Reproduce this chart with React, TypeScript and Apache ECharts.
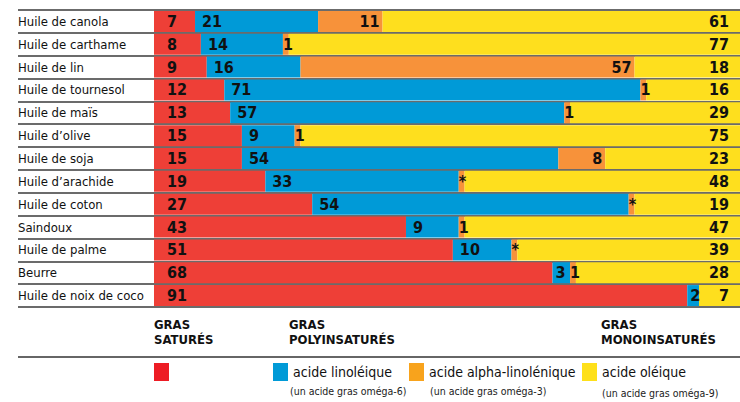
import React, { useEffect, useRef } from "react";
import * as echarts from "echarts";

const categories = [
  "Huile de canola",
  "Huile de carthame",
  "Huile de lin",
  "Huile de tournesol",
  "Huile de maïs",
  "Huile d’olive",
  "Huile de soja",
  "Huile d’arachide",
  "Huile de coton",
  "Saindoux",
  "Huile de palme",
  "Beurre",
  "Huile de noix de coco",
];
const saturated = [7, 8, 9, 12, 13, 15, 15, 19, 27, 43, 51, 68, 91];
const linoleic = [21, 14, 16, 71, 57, 9, 54, 33, 54, 9, 10, 3, 2];
// "*" = trace amount
const alphaLinolenic: (number | string)[] = [11, 1, 57, 1, 1, 1, 8, "*", "*", 1, "*", 1, 0];
const oleic = [61, 77, 18, 16, 29, 75, 23, 48, 19, 47, 39, 28, 7];
const TRACE_WIDTH = 1;

const seriesNames = ["gras saturés", "acide linoléique", "acide alpha-linolénique", "acide oléique"];
const subtitles = ["(un acide gras oméga-6)", "(un acide gras oméga-3)", "(un acide gras oméga-9)"];
const groupHeadings = ["GRAS\nSATURÉS", "GRAS\nPOLYINSATURÉS", "GRAS\nMONOINSATURÉS"];

const COLORS = ["#EE3F37", "#009AD7", "#F7923A", "#FEDF1E"];
const LEGEND_COLORS = ["#ED1C24", "#009AD7", "#F8A31C", "#FEE01A"];
const NARROW = "'DejaVu Sans Condensed','Liberation Sans Narrow',sans-serif";

export default function App() {
  const ref = useRef<HTMLDivElement>(null);
  useEffect(() => {
    if (!ref.current) return;
    const chart = echarts.init(ref.current, null, { renderer: "svg" });
    const labelStyle = {
      show: true,
      color: "#111",
      fontFamily: NARROW,
      fontWeight: "bold" as const,
      fontSize: 16,
    };
    const blueData = linoleic.map((v) => ({
      value: v,
      label: { position: "insideLeft", distance: v < 5 ? 3 : 7 },
    }));
    const orangeData = alphaLinolenic.map((v) => {
      const num = v === "*" ? TRACE_WIDTH : (v as number);
      const small = num <= 1;
      return {
        value: num,
        label: {
          position: small ? "insideLeft" : "insideRight",
          distance: small ? 0 : 3,
        },
      };
    });
    const legendBase = {
      icon: "rect",
      itemWidth: 15,
      itemHeight: 18,
      itemGap: 5,
      padding: 0,
      top: 363,
      selectedMode: false,
      textStyle: { color: "#111", fontFamily: NARROW, fontSize: 14 },
    };
    const legendItem = (i: number) => ({ name: seriesNames[i], itemStyle: { color: LEGEND_COLORS[i] } });
    chart.setOption({
      animation: false,
      backgroundColor: "#fff",
      grid: { left: 154, right: 0, top: 10, bottom: 95 },
      xAxis: { type: "value", min: 0, max: 100, show: false },
      yAxis: {
        type: "category",
        data: categories,
        inverse: true,
        axisLine: { show: false },
        axisTick: { show: true, length: 136, lineStyle: { color: "#3a3a3a", width: 1.5 } },
        splitLine: { show: true, lineStyle: { color: "#3a3a3a", width: 1.5 } },
        axisLabel: {
          margin: 136,
          align: "left",
          color: "#111",
          fontFamily: NARROW,
          fontSize: 13,
        },
      },
      legend: [
        { ...legendBase, left: 154, data: [legendItem(0)], formatter: () => "" },
        { ...legendBase, left: 273, data: [legendItem(1)] },
        { ...legendBase, left: 409, data: [legendItem(2)] },
        { ...legendBase, left: 582, data: [legendItem(3)] },
      ],
      series: [
        {
          name: seriesNames[0],
          type: "bar",
          stack: "total",
          barCategoryGap: "8%",
          data: saturated,
          itemStyle: { color: COLORS[0] },
          label: { ...labelStyle, position: "insideLeft", distance: 13 },
        },
        {
          name: seriesNames[1],
          type: "bar",
          stack: "total",
          data: blueData,
          itemStyle: { color: COLORS[1] },
          label: { ...labelStyle },
        },
        {
          name: seriesNames[2],
          type: "bar",
          stack: "total",
          data: orangeData,
          itemStyle: { color: COLORS[2] },
          label: {
            ...labelStyle,
            formatter: (p: any) => {
              const v = alphaLinolenic[p.dataIndex];
              return v === 0 ? "" : String(v);
            },
          },
        },
        {
          name: seriesNames[3],
          type: "bar",
          stack: "total",
          data: oleic,
          itemStyle: { color: COLORS[3] },
          label: { ...labelStyle, position: "insideRight", distance: 11 },
        },
      ],
      graphic: [
        ...[154, 289, 601].map((x, i) => ({
          type: "text",
          left: x,
          top: 317,
          style: {
            text: groupHeadings[i],
            fill: "#111",
            fontFamily: NARROW,
            fontWeight: "bold",
            fontSize: 13,
            lineHeight: 15,
          },
        })),
        {
          type: "line",
          shape: { x1: 18, y1: 357, x2: 740, y2: 357 },
          style: { stroke: "#333", lineWidth: 1.5 },
        },
        ...[
          [290, 391],
          [430, 391],
          [602, 393],
        ].map(([x, y], i) => ({
          type: "text",
          x,
          y,
          style: {
            text: subtitles[i],
            fill: "#222",
            fontFamily: NARROW,
            fontSize: 10.5,
            verticalAlign: "middle",
          },
        })),
      ],
    });
    return () => chart.dispose();
  }, []);
  return (
    <div
      ref={ref}
      style={{ position: "fixed", left: 0, top: 0, width: 740, height: 402 }}
    />
  );
}
